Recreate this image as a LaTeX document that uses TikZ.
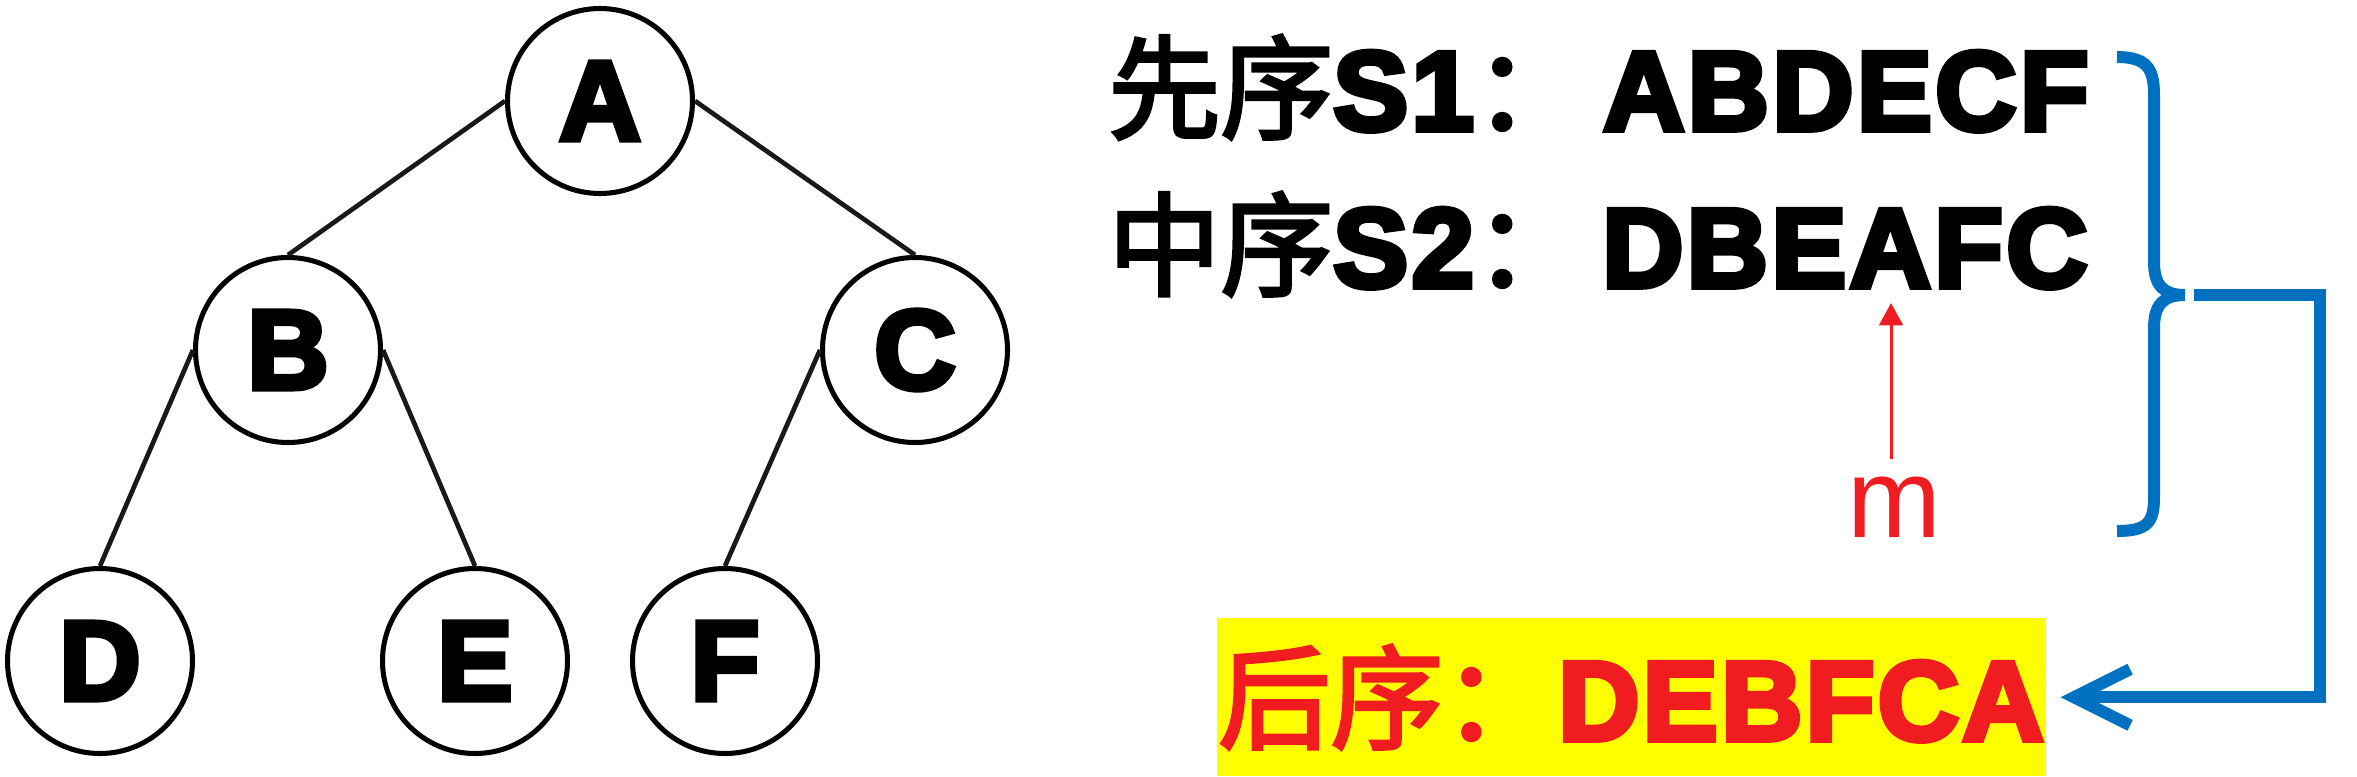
\documentclass[tikz,border=0pt]{standalone}
\usepackage{fontspec}
\setmainfont{Liberation Sans}
\newfontfamily\cjk{Noto Sans CJK SC}[FakeBold=3]
\newfontfamily\heavy{Liberation Sans}[BoldFeatures={FakeBold=5, LetterSpace=3}]
\usetikzlibrary{arrows.meta}
\definecolor{myblue}{RGB}{0,112,192}
\definecolor{myred}{RGB}{240,28,32}
\definecolor{myyellow}{RGB}{255,255,0}
\begin{document}
\begin{tikzpicture}[x=0.03cm,y=-0.03cm,
  treenode/.style={circle, draw=black, fill=white, line width=4.3pt,
    minimum size=5.55cm, inner sep=0pt,
    font=\fontsize{96}{100}\selectfont\heavy\bfseries},
  edge/.style={line width=4pt, draw=black!90},
  bigtext/.style={inner sep=0pt, anchor=base west,
    font=\fontsize{96}{100}\selectfont},
  blueline/.style={draw=myblue, line width=10.2pt},
  redarrow/.style={draw=myred, line width=2.6pt,
    -{Triangle[length=19pt,width=20pt]}}]
\useasboundingbox (0,0) rectangle (2357,776);
% tree
\node[treenode] (A) at (600,101) {A};
\node[treenode] (B) at (288,350) {B};
\node[treenode] (C) at (915,350) {C};
\node[treenode] (D) at (100,661) {D};
\node[treenode] (E) at (475,661) {E};
\node[treenode] (F) at (725,661) {F};
\draw[edge] (A.west) -- (B.north);
\draw[edge] (A.east) -- (C.north);
\draw[edge] (B.west) -- (D.north);
\draw[edge] (B.east) -- (E.north);
\draw[edge] (C.west) -- (F.north);
% sequences
\node[bigtext] (pre) at (1108,130) {{\cjk 先序}{\heavy\bfseries S1}{\cjk ：}};
\node[bigtext] (preseq) at (1603,130) {\heavy\bfseries ABDECF};
\node[bigtext] (in) at (1108,287) {{\cjk 中序}{\heavy\bfseries S2}{\cjk ：}};
\node[bigtext] (inseq) at (1602,287) {\heavy\bfseries DBEAFC};
% post order box
\node[fill=myyellow, anchor=north west, inner sep=0pt,
  minimum width=24.87cm, minimum height=4.74cm] (post) at (1217,618) {};
\node[bigtext, text=myred] (postlbl) at (1218,740) {\cjk 后序：};
\node[bigtext, text=myred] (postseq) at (1558,740) {\heavy\bfseries DEBFCA};
% m arrow
\node[inner sep=0pt, anchor=base, text=myred,
  font=\fontsize{96}{100}\selectfont] (m) at (1894,537) {m};
\coordinate (mA) at (1891,303);
\draw[redarrow, shorten <=15pt] (mA |- m.north) -- (mA);
% brace
\draw[blueline] (2117,57) .. controls (2148,57) and (2154,70) .. (2154,95)
  -- (2154,262) .. controls (2154,285) and (2163,295) .. (2185,295)
  .. controls (2163,295) and (2154,305) .. (2154,328)
  -- (2154,497) .. controls (2154,522) and (2148,531) .. (2117,531);
\coordinate (bt) at (2194,295);
\coordinate (corner) at (2320,295);
\draw[blueline, -{Straight Barb[length=48pt,width=48pt]}, shorten >=12pt]
  (bt) -- (corner) |- (post.east);
\end{tikzpicture}
\end{document}
